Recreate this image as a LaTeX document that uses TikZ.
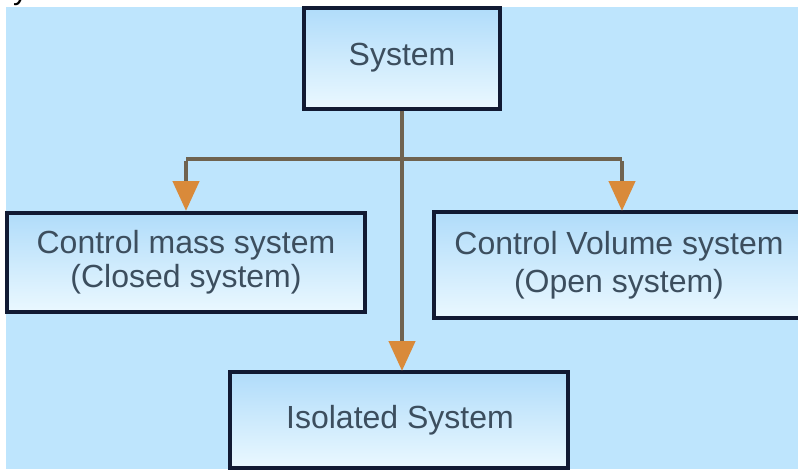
\documentclass[tikz,border=0pt]{standalone}
\usepackage{fontspec}
\setmainfont{Liberation Sans}
\usetikzlibrary{arrows.meta}
\definecolor{bgblue}{HTML}{BEE5FD}
\definecolor{boxline}{HTML}{111A33}
\definecolor{boxtop}{HTML}{B0DCFA}
\definecolor{boxbot}{HTML}{EAF8FF}
\definecolor{txt}{HTML}{3C4E5E}
\definecolor{conn}{HTML}{6F6350}
\definecolor{tipfill}{HTML}{D98A3A}
\begin{document}
\begin{tikzpicture}[x=1pt,y=-1pt,
  boxstyle/.style={draw=boxline,line width=4pt,top color=boxtop,bottom color=boxbot,
    text=txt,font=\fontsize{32}{34}\selectfont,align=center,inner sep=0pt},
  labelstyle/.style={text=txt,align=center,inner sep=0pt},
  connector/.style={draw=conn,line width=4.5pt},
  arrowed/.style={connector,-{Triangle[length=30pt,width=26pt,fill=tipfill,color=tipfill]}}
]
\useasboundingbox (0,0) rectangle (798,469);
\fill[white] (0,0) rectangle (798,469);
\fill[bgblue] (6,7) rectangle (798,469);
\begin{scope}
  \clip (0,0) rectangle (200,7);
  \node[anchor=base west,font=\fontsize{30}{30}\selectfont\rmfamily,inner sep=0pt] (cut) at (-2,-1) {system};
\end{scope}
% boxes
\node[boxstyle,minimum width=196pt,minimum height=101pt] (sys) at (402,58) {System};
\node[boxstyle,minimum width=358pt,minimum height=99pt] (cm) at (186,262) {Control mass system\\(Closed system)};
\node[boxstyle,minimum width=390pt,minimum height=106pt] (cv) at (629,265) {};
\node[labelstyle,font=\fontsize{32}{38}\selectfont] (cvt) at (619,265) {Control Volume system\\(Open system)};
\node[boxstyle,minimum width=338pt,minimum height=96pt] (iso) at (399,420) {};
\node[labelstyle,font=\fontsize{32}{34}\selectfont] (isot) at (400,420) {Isolated System};
% connectors
\coordinate (j) at (402,159);
\coordinate (jl) at (186,159);
\coordinate (jr) at (622,159);
\coordinate (tl) at (186,211);
\coordinate (tr) at (622,211);
\coordinate (tc) at (402,371);
\draw[connector] (sys.south) -- (j);
\draw[connector] (jl) -- (jr);
\draw[arrowed] ([yshift=-2pt]jl) -- (tl);
\draw[arrowed] ([yshift=-2pt]jr) -- (tr);
\draw[arrowed] (j) -- (tc);
\end{tikzpicture}
\end{document}
